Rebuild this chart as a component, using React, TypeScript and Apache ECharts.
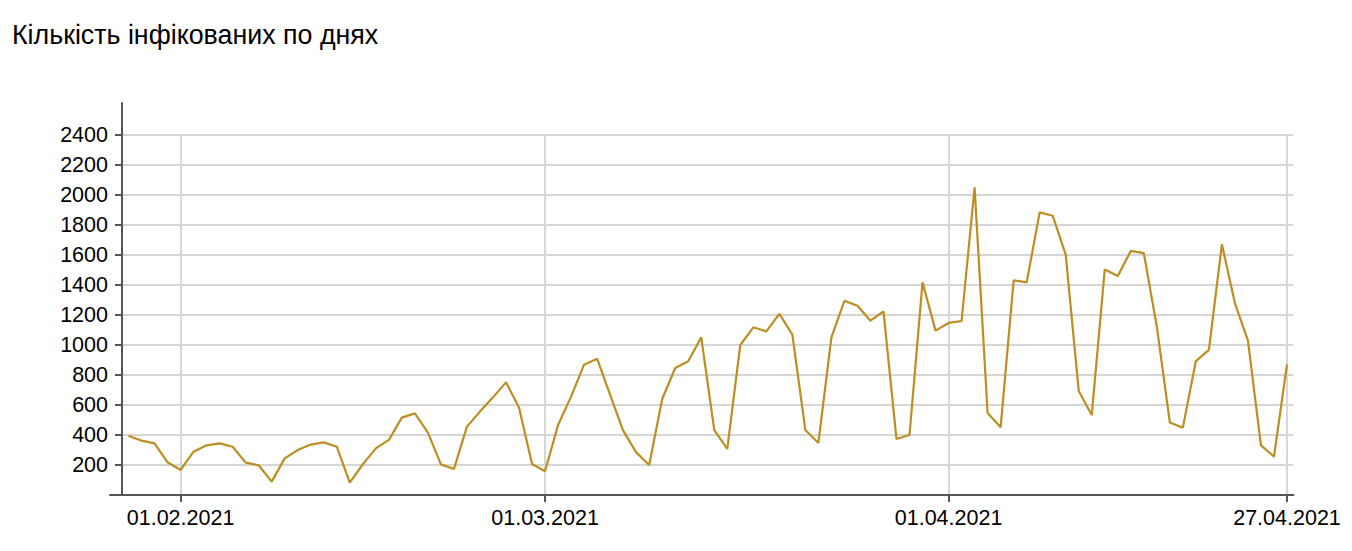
import React, { useEffect, useRef } from "react";
import * as echarts from "echarts";

// Daily dates from 28.01.2021 to 27.04.2021
const startDate = Date.UTC(2021, 0, 28);
const dayCount = 90;
const pad = (n: number) => (n < 10 ? "0" + n : "" + n);
const categories: string[] = [];
for (let i = 0; i < dayCount; i++) {
  const d = new Date(startDate + i * 86400000);
  categories.push(pad(d.getUTCDate()) + "." + pad(d.getUTCMonth() + 1) + "." + d.getUTCFullYear());
}

const tickLabels = ["01.02.2021", "01.03.2021", "01.04.2021", "27.04.2021"];

const infected = [
  395, 362, 344, 218, 167, 289, 331, 344, 322, 216,
  198, 89, 244, 300, 336, 351, 322, 82, 205, 311,
  367, 516, 544, 416, 204, 173, 456, 556, 651, 751,
  584, 207, 158, 467, 656, 869, 909, 667, 429, 284,
  200, 640, 847, 891, 1051, 433, 307, 1000, 1118, 1091,
  1207, 1069, 433, 347, 1051, 1295, 1262, 1162, 1224, 373,
  400, 1418, 1096, 1147, 1160, 2051, 547, 451, 1431, 1418,
  1884, 1862, 1602, 694, 533, 1504, 1460, 1627, 1613, 1122,
  484, 449, 893, 967, 1671, 1278, 1029, 331, 256, 871,
];

const yTicks = { min: 0, max: 2400, step: 200 };

const AXIS = "#555555";
const GRID = "#d6d6d6";
const LINE = "#bd8e21";
const FONT = "'Liberation Sans', Arial, Helvetica, sans-serif";

export default function App() {
  const ref = useRef<HTMLDivElement>(null);
  useEffect(() => {
    if (!ref.current) return;
    const chart = echarts.init(ref.current, null, { renderer: "svg" });
    const isTick = (_i: number, v: string) => tickLabels.includes(v);
    chart.setOption({
      animation: false,
      backgroundColor: "#ffffff",
      textStyle: { fontFamily: FONT },
      title: {
        text: "Кількість інфікованих по днях",
        left: 12,
        top: 21,
        padding: 0,
        textStyle: { fontSize: 26.8, fontWeight: "normal", color: "#000", fontFamily: FONT },
      },
      grid: [
        { left: 122, right: 58.5, top: 135, bottom: 56 },
        { left: 110, right: 58.5, top: 103, bottom: 56 },
        { left: 122, right: 58.5, top: 103, bottom: 56 },
      ],
      xAxis: [
        {
          type: "category",
          gridIndex: 0,
          data: categories,
          boundaryGap: true,
          axisLine: { show: false },
          axisTick: {
            show: true,
            interval: isTick,
            alignWithLabel: true,
            length: 7,
            lineStyle: { color: AXIS, width: 2 },
          },
          axisLabel: {
            interval: isTick,
            fontSize: 21.5,
            color: "#000",
            margin: 12,
            fontFamily: FONT,
          },
          splitLine: {
            show: true,
            interval: isTick,
            alignWithLabel: true,
            lineStyle: { color: GRID, width: 2 },
          },
        },
        {
          type: "value",
          gridIndex: 1,
          min: 0,
          max: 1,
          axisLine: { show: true, onZero: false, lineStyle: { color: AXIS, width: 2 } },
          axisTick: { show: false },
          axisLabel: { show: false },
          splitLine: { show: false },
        },
        {
          type: "value",
          gridIndex: 2,
          min: 0,
          max: 1,
          show: false,
        },
      ],
      yAxis: [
        {
          type: "value",
          gridIndex: 0,
          min: yTicks.min,
          max: yTicks.max,
          interval: yTicks.step,
          axisLine: { show: false },
          axisTick: { show: true, length: 7, lineStyle: { color: AXIS, width: 2 } },
          axisLabel: {
            fontSize: 21.5,
            color: "#000",
            margin: 14,
            fontFamily: FONT,
            formatter: (v: number) => (v === 0 ? "" : String(v)),
          },
          splitLine: { show: true, showMinLine: false, lineStyle: { color: GRID, width: 2 } },
        },
        {
          type: "value",
          gridIndex: 1,
          min: 0,
          max: 1,
          show: false,
        },
        {
          type: "value",
          gridIndex: 2,
          min: 0,
          max: 1,
          axisLine: { show: true, onZero: false, lineStyle: { color: AXIS, width: 2 } },
          axisTick: { show: false },
          axisLabel: { show: false },
          splitLine: { show: false },
        },
      ],
      series: [
        {
          type: "line",
          xAxisIndex: 0,
          yAxisIndex: 0,
          data: infected,
          symbol: "none",
          lineStyle: { color: LINE, width: 2.2 },
          z: 5,
        },
      ],
    });
    return () => chart.dispose();
  }, []);
  return (
    <div
      ref={ref}
      style={{ position: "fixed", left: 0, top: 0, width: 1352, height: 551 }}
    />
  );
}
